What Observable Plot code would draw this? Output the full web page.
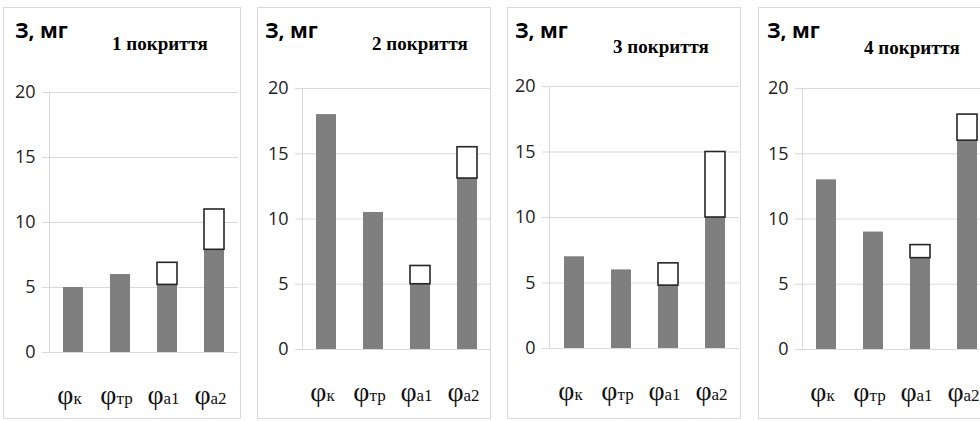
<!DOCTYPE html>
<html><head><meta charset="utf-8">
<script src="https://cdn.jsdelivr.net/npm/d3@7"></script>
<script src="https://cdn.jsdelivr.net/npm/@observablehq/plot@0.6"></script>
<style>
html,body{margin:0;padding:0;background:#fff}
body{width:980px;height:421px;overflow:hidden;position:relative}
.panel{position:absolute;top:7px;height:412px;border:1px solid #d9d9d9;box-sizing:border-box;background:#fff;overflow:hidden}
.head{position:relative;height:50px}
.ttl{position:absolute;font-family:"Open Sans";font-weight:bold;font-size:21px;line-height:21px;color:#000;white-space:nowrap}
.sub{position:absolute;font-family:"Liberation Serif";font-weight:bold;font-size:19px;line-height:19px;color:#000;white-space:nowrap}
.panel svg{display:block}
</style></head><body>
<script>
// ---- data ----
const symbol = "φ";
const suffixes = ["к", "тр", "а1", "а2"];
const tickLabels = suffixes.map(s => symbol + s);
const yLabel = "З, мг";
const titles = ["1 покриття", "2 покриття", "3 покриття", "4 покриття"];
const yTicks = [0, 5, 10, 15, 20];

const base1 = [5, 6, 5.2, 7.9];
const top1  = [null, null, 6.9, 11];
const base2 = [18, 10.5, 5, 13.1];
const top2  = [null, null, 6.4, 15.5];
const base3 = [7, 6, 4.8, 10];
const top3  = [null, null, 6.5, 15];
const base4 = [13, 9, 7, 16];
const top4  = [null, null, 8, 18];

const bases = [base1, base2, base3, base4];
const tops = [top1, top2, top3, top4];

// ---- layout (page geometry of each panel) ----
const layout = [
  {left: 3,   width: 238, ml: 45, mr: 2, mt: 34, mb: 66, tx: 11, sx: 108, sb: 42},
  {left: 257, width: 234, ml: 44, mr: 0, mt: 30, mb: 69, tx: 7,  sx: 114, sb: 42},
  {left: 507, width: 234, ml: 41, mr: 1, mt: 28, mb: 70, tx: 7,  sx: 105, sb: 45},
  {left: 758, width: 234, ml: 43, mr: 0, mt: 30, mb: 69, tx: 8,  sx: 105, sb: 46}
];

layout.forEach((L, i) => {
  const panel = document.createElement("div");
  panel.className = "panel";
  panel.style.left = L.left + "px";
  panel.style.width = L.width + "px";
  const head = document.createElement("div");
  head.className = "head";
  const t = document.createElement("div");
  t.className = "ttl";
  t.textContent = yLabel;
  t.style.left = L.tx + "px";
  t.style.top = (31 - 19) + "px";
  const s = document.createElement("div");
  s.className = "sub";
  s.textContent = titles[i];
  s.style.left = L.sx + "px";
  s.style.top = (L.sb - 16) + "px";
  head.append(t, s);
  panel.append(head);

  const rows = tickLabels.map((c, j) => ({cat: c, base: bases[i][j], top: tops[i][j]}));
  const innerW = L.width - 2;
  const svgH = 410 - 50;
  const chart = Plot.plot({
    width: innerW,
    height: svgH,
    marginLeft: L.ml,
    marginRight: L.mr,
    marginTop: L.mt,
    marginBottom: L.mb,
    style: {fontFamily: "Open Sans", fontSize: "18px", color: "#222", background: "#fff"},
    x: {domain: tickLabels, paddingInner: 0.576, paddingOuter: 0.288},
    y: {domain: [0, 20]},
    marks: [
      Plot.gridY(yTicks, {stroke: "#d9d9d9", strokeOpacity: 1, strokeWidth: 1}),
      Plot.axisY(yTicks, {tickSize: 7, tickPadding: 7, stroke: "#d9d9d9", strokeOpacity: 1, fill: "#222", fontSize: 18, label: null}),
      Plot.frame({anchor: "left", stroke: "#d9d9d9"}),
      Plot.barY(rows, {x: "cat", y: "base", fill: "#7f7f7f"}),
      Plot.barY(rows.filter(d => d.top != null), {x: "cat", y1: "base", y2: "top", fill: "#fff", stroke: "#262626", strokeWidth: 1.6}),
      Plot.axisX({tickSize: 0, tickPadding: 39, dx: -4, fontFamily: "Liberation Serif", fontSize: 17, fill: "#111", label: null})
    ]
  });
  // render symbol larger than the index letters
  chart.querySelectorAll('g[aria-label="x-axis tick label"] text').forEach(el => {
    const txt = el.textContent;
    el.textContent = "";
    const ns = "http://www.w3.org/2000/svg";
    const a = document.createElementNS(ns, "tspan");
    a.setAttribute("font-size", "28");
    a.textContent = txt.slice(0, 1);
    const b = document.createElementNS(ns, "tspan");
    b.textContent = txt.slice(1);
    el.append(a, b);
  });
  panel.append(chart);
  document.body.append(panel);
});
</script>
</body></html>
